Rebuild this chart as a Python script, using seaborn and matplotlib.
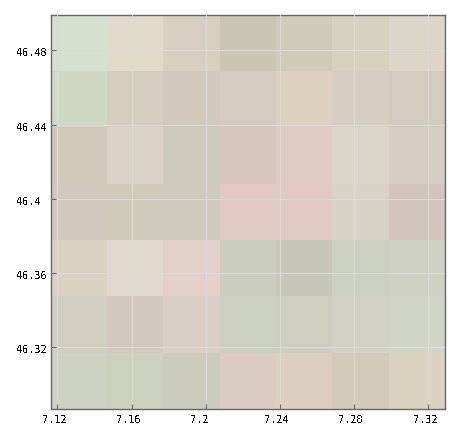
import numpy as np
import matplotlib
matplotlib.use("Agg")
import matplotlib.pyplot as plt
from matplotlib.colors import ListedColormap
from matplotlib.transforms import ScaledTranslation
import seaborn as sns

# Grid extents and tick values
lon_range = [7.1163, 7.3290]
lat_range = [46.2868, 46.4993]
lon_ticks = [7.12, 7.16, 7.20, 7.24, 7.28, 7.32]
lat_ticks = [46.32, 46.36, 46.40, 46.44, 46.48]
lon_labels = ["7.12", "7.16", "7.2", "7.24", "7.28", "7.32"]
lat_labels = ["46.32", "46.36", "46.4", "46.44", "46.48"]

# Raster cell colours, read row by row from north to south
row_1 = ["#D5E1CC", "#E1DACA", "#D7D0C1", "#CBC5B5", "#D0CAB9", "#D7D1C0", "#DCD5C9"]
row_2 = ["#CFD8C3", "#D4CDBD", "#D0C9BC", "#D3CBBF", "#DCD1BF", "#D6CFC1", "#D4CBC0"]
row_3 = ["#D2C8BA", "#DAD3C6", "#CDCBBD", "#D7C5BE", "#E0CBC3", "#DBD5CA", "#D5CCC4"]
row_4 = ["#D3C8BC", "#D0CABB", "#CDCBBE", "#E1CAC4", "#E1CAC4", "#D9D3C7", "#D1C4BC"]
row_5 = ["#D9D2C1", "#E2D9CE", "#E2D1C8", "#CBCDBD", "#C6C7B8", "#CBD0C0", "#CDD0C2"]
row_6 = ["#D0CEBF", "#D2C8BF", "#D9CFC6", "#CCD0BE", "#CECEC0", "#D2D1C5", "#D0D5C7"]
row_7 = ["#CED2C0", "#CCD1BE", "#CBCBBB", "#DBCCC1", "#DCCFC1", "#D4CAB9", "#DBD3BF"]
rows = [row_1, row_2, row_3, row_4, row_5, row_6, row_7]

sns.set_theme(style="white")
plt.rcParams["font.family"] = ["DejaVu Sans Mono"]
plt.rcParams["text.antialiased"] = False

palette, cell_index = np.unique(np.array(rows), return_inverse=True)
cell_index = cell_index.reshape(len(rows), len(row_1))

fig = plt.figure(figsize=(4.7, 4.35), dpi=100)
W, H = 470, 435
ax = fig.add_axes([50.5 / W, 1 - 410 / H, (445 - 50.5) / W, (410 - 15.5) / H])

sns.heatmap(cell_index, ax=ax, cmap=ListedColormap(sns.color_palette(list(palette), len(palette))),
            vmin=-0.5, vmax=len(palette) - 0.5, cbar=False, square=False,
            xticklabels=False, yticklabels=False)

n_rows, n_cols = cell_index.shape
to_x = lambda v: (v - lon_range[0]) / (lon_range[1] - lon_range[0]) * n_cols
to_y = lambda v: (lat_range[1] - v) / (lat_range[1] - lat_range[0]) * n_rows

ax.set_xlim(0, n_cols)
ax.set_ylim(n_rows, 0)
ax.set_xticks([to_x(v) for v in lon_ticks], lon_labels)
ax.set_yticks([to_y(v) for v in lat_ticks], lat_labels)
ax.set_axisbelow(False)
ax.grid(True, color="#DADADA", linewidth=0.75, zorder=5)
ax.tick_params(axis="both", direction="in", length=3.6, width=0.75, color="#666666",
               labelcolor="black", labelsize=7.3, bottom=True, left=True)
ax.tick_params(axis="x", pad=3.5, labelrotation=0)
ax.tick_params(axis="y", pad=24.3, labelrotation=0)
for s in ax.spines.values():
    s.set_visible(True)
    s.set_color("#666666")
    s.set_linewidth(1.0)
shift_x = ScaledTranslation(-15.5 / 100, 0, fig.dpi_scale_trans)
shift_y = ScaledTranslation(0, -1 / 100, fig.dpi_scale_trans)
for lab in ax.get_xticklabels():
    lab.set_ha("left")
    lab.set_transform(lab.get_transform() + shift_x)
for lab in ax.get_yticklabels():
    lab.set_ha("left")
    lab.set_transform(lab.get_transform() + shift_y)

fig.savefig("out.png", dpi=100)
